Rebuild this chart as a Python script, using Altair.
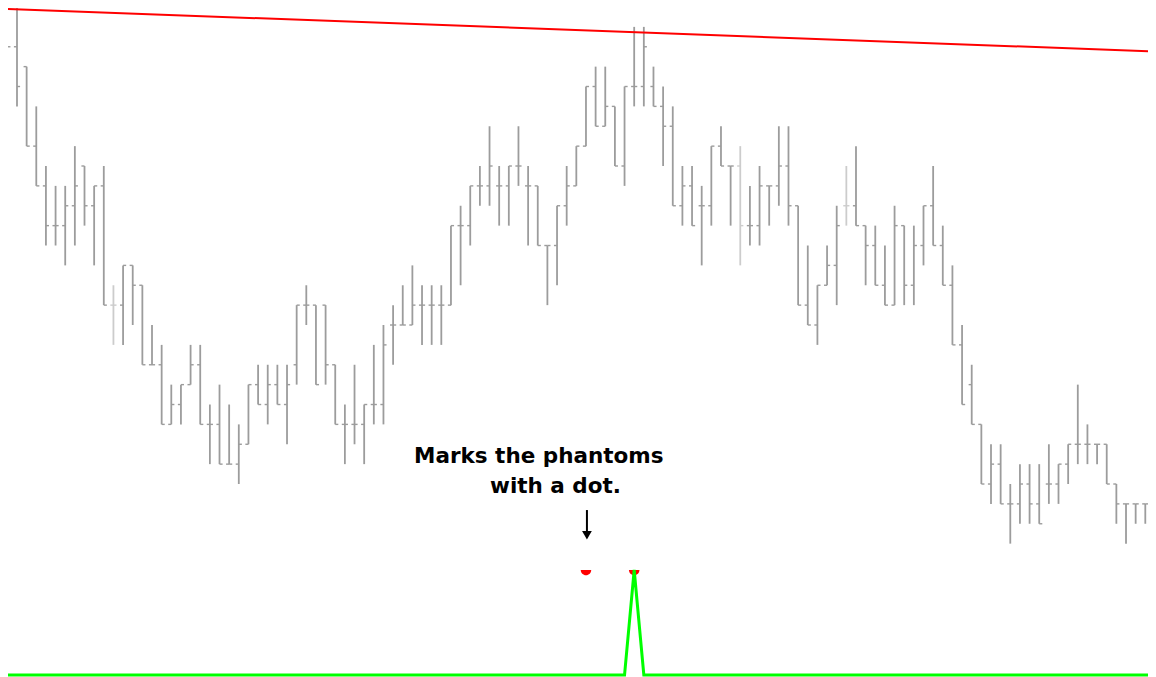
import altair as alt
import pandas as pd

# ---------------- data ----------------
bar_index = list(range(-1, 119))
opens = [128, 128, 127, 123, 121, 119, 119, 120, 122, 120, 121,
         115, 115, 117, 116, 112, 112, 109, 110, 111, 112,
         109, 109, 107, 107, 108, 111, 110, 111, 110, 112,
         115, 115, 115, 112, 109, 109, 109, 110, 110, 114,
         114, 114, 115, 115, 115, 115, 119, 119, 121, 121,
         121, 121, 122, 121, 121, 118, 118, 120, 121, 123,
         126, 124, 125, 122, 126, 126, 126, 125, 124, 120,
         121, 120, 120, 123, 122, 122, 119, 119, 121, 121,
         122, 120, 115, 114, 116, 117, 120, 120, 119, 118,
         116, 115, 119, 116, 118, 120, 118, 116, 113, 111,
         109, 106, 107, 105, 105, 106, 105, 106, 106, 107,
         108, 108, 108, 108, 106, 105, 105, 105, 105]
highs = [128, 130, 127, 125, 122, 121, 121, 123, 122, 121, 122,
         116, 117, 117, 116, 114, 113, 111, 111, 113, 113,
         110, 111, 110, 109, 111, 112, 112, 112, 112, 115,
         116, 115, 115, 112, 110, 112, 110, 113, 114, 115,
         116, 117, 116, 116, 116, 119, 120, 121, 122, 124,
         122, 122, 124, 122, 121, 118, 120, 122, 123, 126,
         127, 127, 125, 126, 129, 129, 127, 126, 125, 122,
         122, 121, 123, 124, 122, 123, 121, 122, 121, 124,
         124, 120, 118, 116, 118, 120, 122, 123, 119, 119,
         118, 120, 119, 119, 120, 122, 119, 117, 114, 112,
         109, 108, 108, 106, 107, 107, 107, 108, 107, 108,
         111, 109, 108, 108, 106, 105, 105, 105, 106]
lows = [128, 125, 123, 121, 118, 118, 117, 118, 119, 117, 115,
        113, 113, 114, 112, 112, 109, 109, 109, 111, 109,
        107, 107, 107, 106, 108, 110, 109, 110, 108, 111,
        114, 111, 111, 109, 107, 108, 107, 109, 109, 112,
        114, 114, 113, 113, 113, 115, 116, 118, 120, 120,
        119, 119, 121, 118, 118, 115, 116, 119, 121, 123,
        124, 124, 122, 121, 125, 125, 125, 122, 120, 119,
        119, 117, 119, 122, 119, 117, 118, 118, 119, 120,
        119, 115, 114, 113, 116, 115, 119, 119, 116, 116,
        115, 115, 115, 115, 117, 118, 116, 113, 110, 109,
        106, 105, 105, 103, 104, 104, 104, 105, 105, 106,
        107, 107, 107, 106, 104, 103, 104, 104, 105]
closes = [128, 126, 123, 121, 119, 119, 120, 121, 120, 121, 115,
          115, 117, 116, 112, 112, 109, 110, 111, 112, 109,
          109, 107, 107, 108, 111, 110, 111, 110, 111, 115,
          115, 111, 112, 109, 109, 109, 110, 110, 113, 114,
          114, 115, 115, 115, 115, 119, 119, 121, 121, 122,
          121, 122, 122, 121, 118, 118, 120, 121, 123, 126,
          124, 125, 122, 126, 126, 128, 125, 124, 120, 121,
          119, 120, 123, 122, 122, 119, 119, 121, 121, 122,
          120, 115, 114, 116, 117, 119, 120, 119, 118, 116,
          115, 119, 116, 118, 120, 118, 116, 113, 110, 109,
          106, 107, 105, 105, 106, 105, 104, 106, 107, 108,
          108, 108, 108, 106, 105, 105, 105, 105, 106]
light_bars = [10, 75, 86]

trend_x = [-0.93, 118.1]
trend_price = [129.90, 127.76]

ind_x = [-1, 63, 64, 65, 119]
ind_v = [0, 0, 1, 0, 0]

dot_x = [59, 64]
dot_v = [1, 1]

note_text = ["Marks the phantoms", "with a dot."]
note_x = [41.17, 49.05]
note_price = [107.06, 105.55]

arrow_x = [59.1]
arrow_top = [104.69]
arrow_end = [103.6]
arrow_head = [103.42]

# ---------------- layout / style ----------------
W, H = 1140, 669
XDOM = [-0.933, 117.28]
PDOM = [96.29, 129.95]
VDOM = [-0.019, 6.352]
BAR = "#9c9c9c"
BAR_LIGHT = "#cccccc"

df = pd.DataFrame({"i": bar_index, "open": opens, "high": highs,
                   "low": lows, "close": closes})
df["shade"] = ["light" if i in light_bars else "normal" for i in bar_index]

xs = alt.Scale(domain=XDOM)
ps = alt.Scale(domain=PDOM)
vs = alt.Scale(domain=VDOM)

def X(f):
    return alt.X(f, type="quantitative", scale=xs, axis=None)

def YP(f):
    return alt.Y(f, type="quantitative", scale=ps, axis=None)

col = alt.Color("shade:N", scale=alt.Scale(domain=["normal", "light"],
                                            range=[BAR, BAR_LIGHT]), legend=None)

base = alt.Chart(df)
stems = base.mark_rule(strokeWidth=1.8, clip=True).encode(x=X("i"), y=YP("high"), y2="low", color=col)
open_ticks = base.transform_calculate(xo="datum.i - 0.32").mark_rule(strokeWidth=1.4, clip=True).encode(
    x=X("xo"), x2="i", y=YP("open"), color=col)
close_ticks = base.transform_calculate(xc="datum.i + 0.32").mark_rule(strokeWidth=1.4, clip=True).encode(
    x=X("i"), x2="xc", y=YP("close"), color=col)

trend = alt.Chart(pd.DataFrame({"i": trend_x, "price": trend_price})).mark_line(
    color="#ff0000", strokeWidth=2, clip=True).encode(x=X("i"), y=YP("price"))

notes = alt.Chart(pd.DataFrame({"i": note_x, "price": note_price, "t": note_text})).mark_text(
    align="left", baseline="alphabetic", font="DejaVu Sans", fontWeight="bold",
    fontSize=21.5, color="#000000").encode(x=X("i"), y=YP("price"), text="t:N")

arrow_df = pd.DataFrame({"i": arrow_x, "top": arrow_top, "end": arrow_end, "head": arrow_head})
arrow_shaft = alt.Chart(arrow_df).mark_rule(color="#000000", strokeWidth=2).encode(
    x=X("i"), y=YP("top"), y2="end")
arrow_tip = alt.Chart(arrow_df).mark_point(shape="triangle-down", filled=True, size=95,
                                           color="#000000", opacity=1).encode(
    x=X("i"), y=YP("head"))

dots = alt.Chart(pd.DataFrame({"i": dot_x, "v": dot_v})).mark_point(
    shape="M-1,0 A1,1 0 0,0 1,0 Z", filled=True, size=110, color="#ff0000", opacity=1).encode(
    x=X("i"), y=alt.Y("v:Q", scale=vs, axis=None))

indicator = alt.Chart(pd.DataFrame({"i": ind_x, "v": ind_v})).mark_line(
    color="#00ff00", strokeWidth=3, clip=True).encode(
    x=X("i"), y=alt.Y("v:Q", scale=vs, axis=None))

chart = alt.layer(stems, open_ticks, close_ticks, trend, notes, arrow_shaft, arrow_tip,
                  dots, indicator).resolve_scale(y="independent").properties(
    width=W, height=H, padding=0, autosize=alt.AutoSizeParams(type="none"),
    background="#ffffff").configure_view(stroke=None)

chart.save("out.html", embed_options={"renderer": "svg", "actions": False})
